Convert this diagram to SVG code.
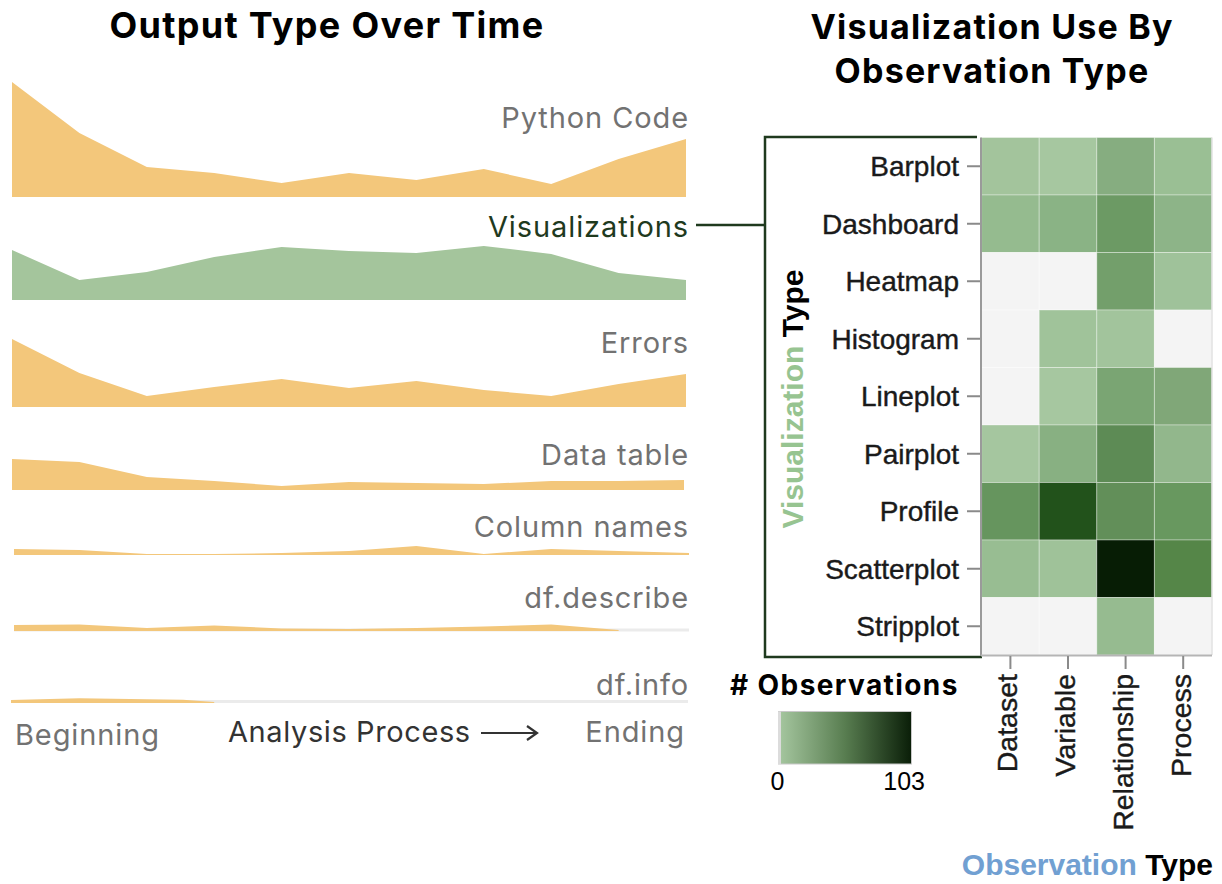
<svg xmlns="http://www.w3.org/2000/svg" width="1222" height="884" viewBox="0 0 1222 884">
<defs>
<style>
.title{font-family:Inter,"Liberation Sans",sans-serif;font-weight:700;font-size:34px;fill:#000;letter-spacing:1.2px}
.lbl{font-family:Inter,"Open Sans",sans-serif;font-size:29px;fill:#727272;text-anchor:end;letter-spacing:0.9px}
.orange{fill:#f3c77b}
.green{fill:#a4c59c}
.base{stroke:#ebebeb;stroke-width:3;fill:none}
.rowl{font-family:"Liberation Sans",Arial,sans-serif;font-size:28px;fill:#1a1a1a;stroke:#1a1a1a;stroke-width:0.4;text-anchor:end}
.coll{font-family:"Liberation Sans",Arial,sans-serif;font-size:28.5px;fill:#1a1a1a;stroke:#1a1a1a;stroke-width:0.4;text-anchor:end}
.tick{stroke:#8a8a8a;stroke-width:2}
.axt{font-family:"Liberation Sans",Arial,sans-serif;font-weight:700;font-size:30px}
.cell{stroke:#ffffff;stroke-width:1;stroke-opacity:0.35}
</style>
<linearGradient id="grad" x1="0" y1="0" x2="1" y2="0">
<stop offset="0" stop-color="#a6c7a0"/>
<stop offset="0.5" stop-color="#587d50"/>
<stop offset="1" stop-color="#0a1e08"/>
</linearGradient>
</defs>
<rect width="1222" height="884" fill="#fff"/>

<g id="title-left"><text class="title" x="327" y="38" text-anchor="middle" style="font-size:36px;letter-spacing:1.3px">Output Type Over Time</text></g>
<g id="title-right">
<text class="title" x="992" y="39" text-anchor="middle">Visualization Use By</text>
<text class="title" x="992" y="83" text-anchor="middle">Observation Type</text>
</g>

<g id="python-code">
<path class="orange" d="M12,197 L12,82 L79.4,133 L146.8,167 L214.2,173 L281.6,183 L349,173 L416.4,180 L483.8,169 L551.2,184 L618.6,159 L686,139 L686,197 Z"/>
<text class="lbl" x="689" y="128">Python Code</text>
</g>
<g id="visualizations">
<path class="green" d="M12,300 L12,250 L79.4,280 L146.8,272 L214.2,257 L281.6,247 L349,251 L416.4,253 L483.8,246 L551.2,254 L618.6,273 L686,280 L686,300 Z"/>
<text class="lbl" x="689" y="237" style="fill:#1f3a1e">Visualizations</text>
</g>
<g id="errors">
<path class="orange" d="M12,407 L12,339 L79.4,373 L146.8,396 L214.2,387 L281.6,379 L349,388 L416.4,381 L483.8,390 L551.2,396 L618.6,384 L686,374 L686,407 Z"/>
<text class="lbl" x="689" y="353">Errors</text>
</g>
<g id="data-table">
<path class="orange" d="M12,490 L12,459 L79.4,462 L146.8,477 L214.2,481 L281.6,486 L349,482 L416.4,483 L483.8,484 L551.2,481 L618.6,481 L684,480 L684,490 Z"/>
<text class="lbl" x="689" y="465">Data table</text>
</g>
<g id="column-names">
<path class="orange" d="M14,555 L14,549 L79.4,550 L146.8,554 L214.2,554 L281.6,553 L349,551 L416.4,546 L483.8,554 L551.2,549 L618.6,551 L689,553 L689,555 Z"/>
<text class="lbl" x="689" y="537">Column names</text>
</g>
<g id="df-describe">
<line class="base" x1="14" y1="630" x2="689" y2="630"/>
<path class="orange" d="M14,631 L14,625 L79.4,624.5 L146.8,628 L214.2,625.5 L281.6,628.5 L349,629 L416.4,628 L483.8,626.5 L551.2,624.5 L618.6,630 L618.6,631 Z"/>
<text class="lbl" x="689" y="608">df.describe</text>
</g>
<g id="df-info">
<line class="base" x1="11" y1="701.5" x2="688" y2="701.5"/>
<path class="orange" d="M11,703 L11,700 L79.4,698.3 L146.8,699.3 L183,699.8 L214.2,702 L214.2,703 Z"/>
<text class="lbl" x="689" y="695">df.info</text>
</g>

<g id="x-axis-left">
<text class="lbl" x="15" y="745" style="text-anchor:start">Beginning</text>
<text class="lbl" x="228" y="742" style="text-anchor:start;fill:#333;letter-spacing:0.6px">Analysis Process</text>
<line x1="481" y1="733" x2="536" y2="733" stroke="#333" stroke-width="2.2"/>
<polyline points="527,726 537,733 527,740" fill="none" stroke="#333" stroke-width="2.2"/>
<text class="lbl" x="685" y="742">Ending</text>
</g>

<g id="connectors">
<line x1="696" y1="225" x2="765" y2="225" stroke="#1f3a1e" stroke-width="2.5"/>
<path d="M977,137 H765 V657 H982" fill="none" stroke="#1f3a1e" stroke-width="2.5"/>
</g>

<g id="heatmap">
<g id="row-barplot">
<rect class="cell" x="981.6" y="137.5" width="57.6" height="57.5" fill="#a3c49c"/>
<rect class="cell" x="1039.2" y="137.5" width="57.6" height="57.5" fill="#a6c7a0"/>
<rect class="cell" x="1096.8" y="137.5" width="57.6" height="57.5" fill="#86ad80"/>
<rect class="cell" x="1154.4" y="137.5" width="57.6" height="57.5" fill="#9abf94"/>
</g>
<g id="row-dashboard">
<rect class="cell" x="981.6" y="195" width="57.6" height="57.5" fill="#95bb8f"/>
<rect class="cell" x="1039.2" y="195" width="57.6" height="57.5" fill="#8ab385"/>
<rect class="cell" x="1096.8" y="195" width="57.6" height="57.5" fill="#6c9a64"/>
<rect class="cell" x="1154.4" y="195" width="57.6" height="57.5" fill="#8db488"/>
</g>
<g id="row-heatmap">
<rect class="cell" x="981.6" y="252.5" width="57.6" height="57.5" fill="#f4f4f4"/>
<rect class="cell" x="1039.2" y="252.5" width="57.6" height="57.5" fill="#f4f4f4"/>
<rect class="cell" x="1096.8" y="252.5" width="57.6" height="57.5" fill="#739f6b"/>
<rect class="cell" x="1154.4" y="252.5" width="57.6" height="57.5" fill="#9fc29a"/>
</g>
<g id="row-histogram">
<rect class="cell" x="981.6" y="310" width="57.6" height="57.5" fill="#f4f4f4"/>
<rect class="cell" x="1039.2" y="310" width="57.6" height="57.5" fill="#a0c39a"/>
<rect class="cell" x="1096.8" y="310" width="57.6" height="57.5" fill="#a2c49c"/>
<rect class="cell" x="1154.4" y="310" width="57.6" height="57.5" fill="#f4f4f4"/>
</g>
<g id="row-lineplot">
<rect class="cell" x="981.6" y="367.5" width="57.6" height="57.5" fill="#f4f4f4"/>
<rect class="cell" x="1039.2" y="367.5" width="57.6" height="57.5" fill="#a6c7a0"/>
<rect class="cell" x="1096.8" y="367.5" width="57.6" height="57.5" fill="#7aa573"/>
<rect class="cell" x="1154.4" y="367.5" width="57.6" height="57.5" fill="#80a778"/>
</g>
<g id="row-pairplot">
<rect class="cell" x="981.6" y="425" width="57.6" height="57.5" fill="#a5c69f"/>
<rect class="cell" x="1039.2" y="425" width="57.6" height="57.5" fill="#88b082"/>
<rect class="cell" x="1096.8" y="425" width="57.6" height="57.5" fill="#5d8b55"/>
<rect class="cell" x="1154.4" y="425" width="57.6" height="57.5" fill="#92b78c"/>
</g>
<g id="row-profile">
<rect class="cell" x="981.6" y="482.5" width="57.6" height="57.5" fill="#66955e"/>
<rect class="cell" x="1039.2" y="482.5" width="57.6" height="57.5" fill="#22521b"/>
<rect class="cell" x="1096.8" y="482.5" width="57.6" height="57.5" fill="#628f59"/>
<rect class="cell" x="1154.4" y="482.5" width="57.6" height="57.5" fill="#68985f"/>
</g>
<g id="row-scatterplot">
<rect class="cell" x="981.6" y="540" width="57.6" height="57.5" fill="#98bd92"/>
<rect class="cell" x="1039.2" y="540" width="57.6" height="57.5" fill="#9fc299"/>
<rect class="cell" x="1096.8" y="540" width="57.6" height="57.5" fill="#071d05"/>
<rect class="cell" x="1154.4" y="540" width="57.6" height="57.5" fill="#558648"/>
</g>
<g id="row-stripplot">
<rect class="cell" x="981.6" y="597.5" width="57.6" height="57.5" fill="#f4f4f4"/>
<rect class="cell" x="1039.2" y="597.5" width="57.6" height="57.5" fill="#f4f4f4"/>
<rect class="cell" x="1096.8" y="597.5" width="57.6" height="57.5" fill="#96bb90"/>
<rect class="cell" x="1154.4" y="597.5" width="57.6" height="57.5" fill="#f4f4f4"/>
</g>
<line x1="1212" y1="137.5" x2="1212" y2="655" stroke="#e2e2e2" stroke-width="1.5"/>
</g>

<g id="y-axis">
<line x1="981" y1="137.5" x2="981" y2="656" stroke="#9a9a9a" stroke-width="2"/>
<g class="tick">
<line x1="967" y1="166.25" x2="980" y2="166.25"/>
<line x1="967" y1="223.75" x2="980" y2="223.75"/>
<line x1="967" y1="281.25" x2="980" y2="281.25"/>
<line x1="967" y1="338.75" x2="980" y2="338.75"/>
<line x1="967" y1="396.25" x2="980" y2="396.25"/>
<line x1="967" y1="453.75" x2="980" y2="453.75"/>
<line x1="967" y1="511.25" x2="980" y2="511.25"/>
<line x1="967" y1="568.75" x2="980" y2="568.75"/>
<line x1="967" y1="626.25" x2="980" y2="626.25"/>
</g>
<text class="rowl" x="959" y="176">Barplot</text>
<text class="rowl" x="959" y="233.5">Dashboard</text>
<text class="rowl" x="959" y="291">Heatmap</text>
<text class="rowl" x="959" y="348.5">Histogram</text>
<text class="rowl" x="959" y="406">Lineplot</text>
<text class="rowl" x="959" y="463.5">Pairplot</text>
<text class="rowl" x="959" y="521">Profile</text>
<text class="rowl" x="959" y="578.5">Scatterplot</text>
<text class="rowl" x="959" y="636">Stripplot</text>
<text class="axt" transform="translate(803,399) rotate(-90)" text-anchor="middle"><tspan fill="#97c491">Visualization</tspan> <tspan fill="#000">Type</tspan></text>
</g>

<g id="x-axis">
<line x1="981" y1="655.5" x2="1212" y2="655.5" stroke="#b5b5b5" stroke-width="2"/>
<g class="tick">
<line x1="1010.4" y1="656" x2="1010.4" y2="669"/>
<line x1="1068" y1="656" x2="1068" y2="669"/>
<line x1="1125.6" y1="656" x2="1125.6" y2="669"/>
<line x1="1183.2" y1="656" x2="1183.2" y2="669"/>
</g>
<text class="coll" transform="translate(1017,674) rotate(-90)">Dataset</text>
<text class="coll" transform="translate(1075,674) rotate(-90)">Variable</text>
<text class="coll" transform="translate(1133,674) rotate(-90)">Relationship</text>
<text class="coll" transform="translate(1191,674) rotate(-90)">Process</text>
<text class="axt" x="1213" y="875" text-anchor="end"><tspan fill="#71a0d2">Observation</tspan> <tspan fill="#000">Type</tspan></text>
</g>

<g id="legend">
<text x="730" y="695" style="font-family:Inter,'Liberation Sans',sans-serif;font-weight:700;font-size:28px;fill:#000;letter-spacing:1.4px">#  Observations</text>
<rect x="778.5" y="711.5" width="133" height="52.5" fill="url(#grad)" stroke="#c8c8c8" stroke-width="1"/>
<rect x="778" y="711.5" width="3" height="52.5" fill="#dcdcdc"/>
<text x="777.5" y="790" text-anchor="middle" style="font-family:'Liberation Sans',Arial,sans-serif;font-size:25px;fill:#000">0</text>
<text x="925" y="790" text-anchor="end" style="font-family:'Liberation Sans',Arial,sans-serif;font-size:25px;fill:#000">103</text>
</g>
</svg>
